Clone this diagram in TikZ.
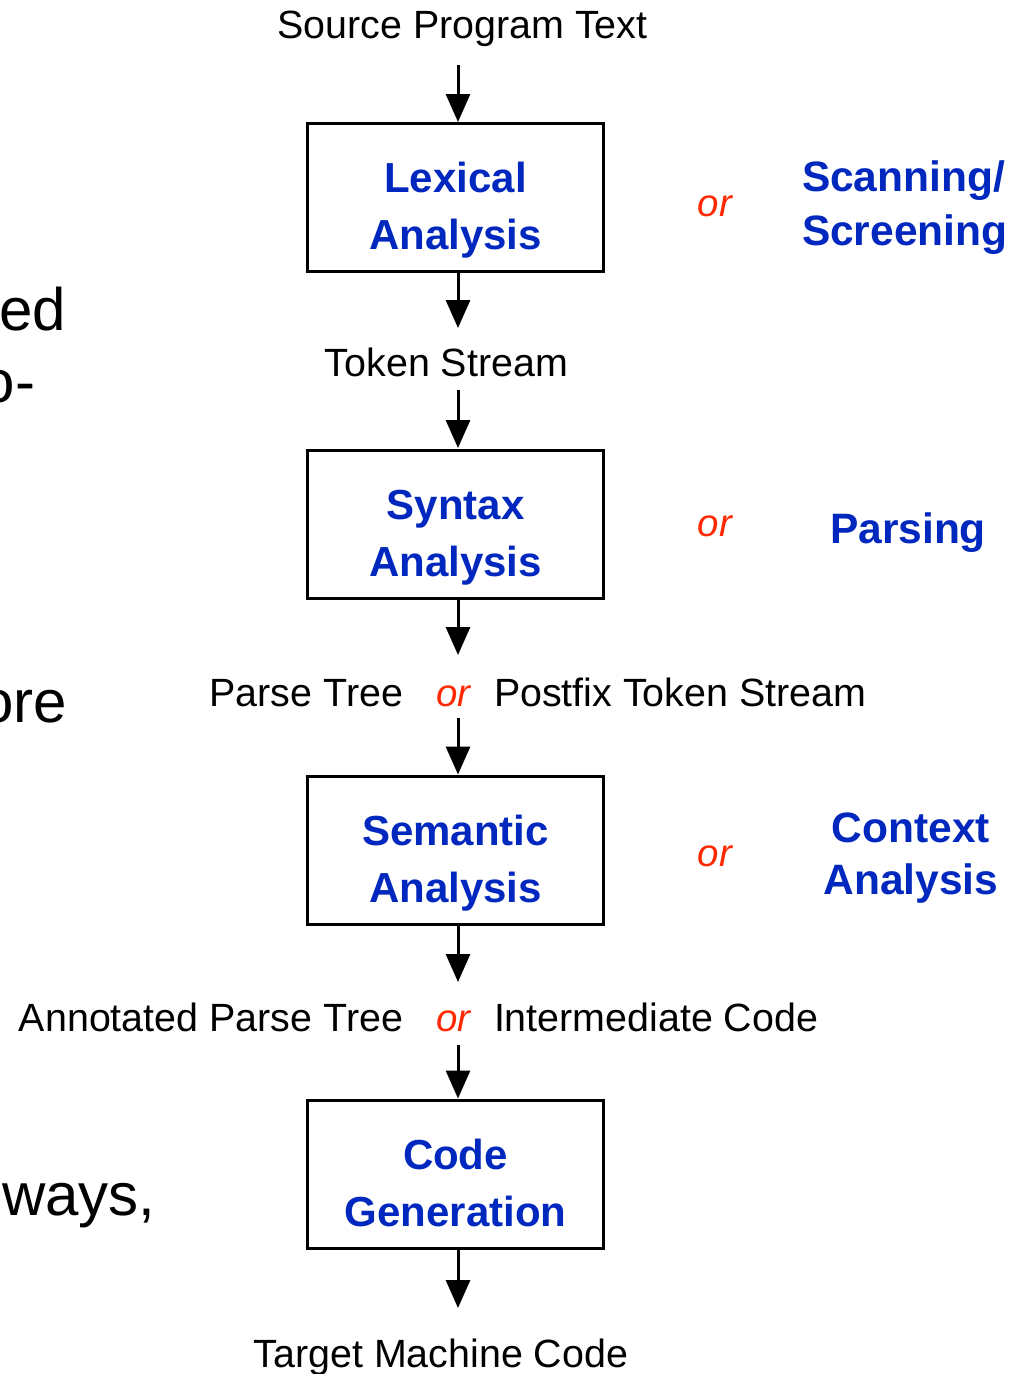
\documentclass[tikz,border=0pt]{standalone}
\usepackage{fontspec}
\setmainfont{Liberation Sans}
\usetikzlibrary{arrows.meta}
\definecolor{stageblue}{RGB}{0,40,190}
\definecolor{orred}{RGB}{255,40,0}

\begin{document}
\begin{tikzpicture}[x=1pt,y=-1pt,
  every node/.style={inner sep=0pt, outer sep=0pt},
  flow/.style={text=black, font=\fontsize{39.4}{46}\selectfont,
    text height=28pt, text depth=9pt},
  alt/.style={text=orred, font=\fontsize{38.5}{46}\selectfont\itshape,
    text height=28pt, text depth=9pt},
  stage/.style={draw=black, line width=3pt, minimum width=296.5pt,
    minimum height=148pt, align=center, text=stageblue,
    font=\fontsize{42}{57}\selectfont\bfseries,
    text height=113pt, text depth=9pt},
  synonym/.style={text=stageblue, font=\fontsize{42.5}{54}\selectfont\bfseries},
  margintext/.style={text=black, font=\fontsize{60}{72}\selectfont},
  arr/.style={line width=3pt, -{Triangle[length=28pt,width=24pt]}}
]
% page frame
\useasboundingbox (0,0) rectangle (1028,1374);
\fill[white] (0,0) rectangle (1028,1374);
\clip (0,0) rectangle (1028,1374);

% left column text running off the page edge
\node[margintext, anchor=base east] (m1) at (66,330) {ed};
\node[margintext, anchor=base east] (m2) at (35,402) {o-};
\node[margintext, anchor=base east] (m3) at (67,722) {ore};
\node[margintext, anchor=base west] (m4) at (2,1215) {ways,};

% compiler phases and the data passed between them
\node[flow, anchor=base] (src) at (462.5,38) {Source Program Text};
\node[stage] (lex) at (455.5,197.5) {Lexical\\Analysis};
\node[flow, anchor=base] (tok) at (446.5,376) {Token Stream};
\node[stage] (syn) at (455.5,524) {Syntax\\Analysis};
\node[alt, anchor=base] (por) at (453.5,706) {or};
\node[flow, anchor=base east] (ptree) at (403,706) {Parse Tree};
\node[flow, anchor=base west] (pfix) at (494,706) {Postfix Token Stream};
\node[stage] (sem) at (455.5,850) {Semantic\\Analysis};
\node[alt, anchor=base] (aor) at (453.5,1031) {or};
\node[flow, anchor=base east] (atree) at (403,1031) {Annotated Parse Tree};
\node[flow, anchor=base west] (icode) at (494,1031) {Intermediate Code};
\node[stage] (gen) at (455.5,1174) {Code~\\Generation};
\node[flow, anchor=base] (tgt) at (441,1367) {Target Machine Code};

% alternative names of the phases
\node[alt, anchor=base] (lexor) at (715,216) {or};
\node[synonym, anchor=north west, align=left] (lexsyn) at (802,161) {Scanning/\\Screening};
\node[alt, anchor=base] (synor) at (715,536) {or};
\node[synonym, anchor=base] (synsyn) at (908,543) {Parsing};
\node[alt, anchor=base] (semor) at (715,866) {or};
\node[synonym, anchor=north, align=center, font=\fontsize{42.5}{52}\selectfont\bfseries]
  (semsyn) at (911,813) {Context\\Analysis};

% flow arrows
\coordinate (ax) at (458,0);
\draw[arr, shorten <=18pt, shorten >=1.5pt] (src.south -| ax) -- (lex.north -| ax);
\draw[arr, shorten >=20pt] (lex.south -| ax) -- (tok.north -| ax);
\draw[arr, shorten <=5pt, shorten >=2pt] (tok.south -| ax) -- (syn.north -| ax);
\draw[arr, shorten >=23pt] (syn.south -| ax) -- (por.north -| ax);
\draw[arr, shorten <=3pt, shorten >=1.5pt] (por.south -| ax) -- (sem.north -| ax);
\draw[arr, shorten >=21pt] (sem.south -| ax) -- (aor.north -| ax);
\draw[arr, shorten <=5pt, shorten >=1.5pt] (aor.south -| ax) -- (gen.north -| ax);
\draw[arr, shorten >=31pt] (gen.south -| ax) -- (tgt.north -| ax);
\end{tikzpicture}
\end{document}
